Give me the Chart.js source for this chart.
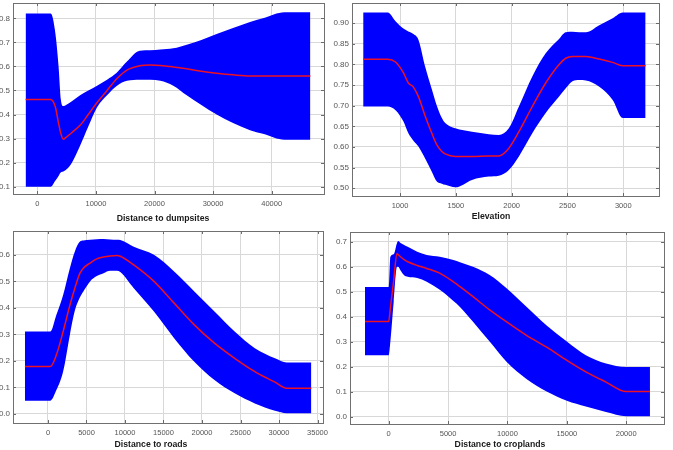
<!DOCTYPE html>
<html lang="en">
<head>
<meta charset="UTF-8" />
<title>Response curves</title>
<script src="https://cdn.jsdelivr.net/npm/chart.js"></script>
<style>
  body { margin: 0; background: #fff; }
  #wrap { position: relative; width: 673px; height: 450px; overflow: hidden; }
  #wrap canvas { position: absolute; left: 0; top: 0; }
  .ttl {
    position: absolute;
    font: bold 8.7px "Liberation Sans", Arial, sans-serif;
    color: #1a1a1a;
    line-height: 1;
    white-space: nowrap;
    transform: translate(-50%, -50%);
  }
</style>
</head>
<body>
<div id="wrap">
  <canvas id="c1" width="673" height="450"></canvas>
  <canvas id="c2" width="673" height="450"></canvas>
  <canvas id="c3" width="673" height="450"></canvas>
  <canvas id="c4" width="673" height="450"></canvas>
  <div class="ttl" style="left:163px;top:218px">Distance to dumpsites</div>
  <div class="ttl" style="left:491px;top:216px">Elevation</div>
  <div class="ttl" style="left:151px;top:444px">Distance to roads</div>
  <div class="ttl" style="left:500px;top:444px">Distance to croplands</div>
</div>

<script>
// --- Distance to dumpsites
const dumpX     = [-2000, 2300, 3070, 3630, 4030, 4430, 4900, 5900, 7300, 8700, 10200, 11900, 13600, 15300, 17500, 19300, 21000, 23200, 25500, 28000, 30600, 33400, 36300, 38500, 42200, 46600];
const dumpUpper = [0.82, 0.82, 0.74, 0.60, 0.46, 0.435, 0.44, 0.455, 0.48, 0.50, 0.52, 0.545, 0.575, 0.62, 0.665, 0.667, 0.67, 0.675, 0.69, 0.71, 0.735, 0.76, 0.785, 0.80, 0.825, 0.825];
const dumpMean  = [0.463, 0.463, 0.432, 0.363, 0.32, 0.297, 0.305, 0.325, 0.355, 0.40, 0.45, 0.50, 0.55, 0.585, 0.603, 0.606, 0.604, 0.598, 0.59, 0.58, 0.572, 0.565, 0.56, 0.56, 0.56, 0.56];
const dumpLower = [0.10, 0.10, 0.125, 0.145, 0.16, 0.163, 0.17, 0.20, 0.27, 0.35, 0.43, 0.48, 0.52, 0.54, 0.545, 0.545, 0.54, 0.52, 0.48, 0.44, 0.40, 0.365, 0.335, 0.32, 0.295, 0.295];
const dumpXTicks = [0, 10000, 20000, 30000, 40000];
const dumpYTicks = [0.1, 0.2, 0.3, 0.4, 0.5, 0.6, 0.7, 0.8];

// --- Elevation
const elevX     = [670, 890, 960, 1030, 1075, 1120, 1165, 1225, 1285, 1330, 1375, 1405, 1495, 1645, 1795, 1885, 1975, 2065, 2185, 2305, 2425, 2485, 2545, 2605, 2665, 2785, 2905, 2995, 3200];
const elevUpper = [0.926, 0.926, 0.905, 0.887, 0.88, 0.874, 0.86, 0.795, 0.74, 0.70, 0.67, 0.658, 0.645, 0.637, 0.631, 0.629, 0.645, 0.698, 0.771, 0.827, 0.862, 0.878, 0.879, 0.878, 0.878, 0.895, 0.912, 0.926, 0.926];
const elevMean  = [0.8127, 0.8127, 0.806, 0.78, 0.755, 0.745, 0.722, 0.675, 0.633, 0.605, 0.589, 0.583, 0.577, 0.577, 0.578, 0.578, 0.597, 0.637, 0.698, 0.755, 0.80, 0.815, 0.819, 0.819, 0.819, 0.813, 0.805, 0.797, 0.797];
const elevLower = [0.698, 0.698, 0.689, 0.662, 0.633, 0.615, 0.601, 0.572, 0.54, 0.516, 0.511, 0.508, 0.502, 0.52, 0.528, 0.53, 0.544, 0.577, 0.633, 0.682, 0.722, 0.742, 0.759, 0.762, 0.761, 0.746, 0.714, 0.67, 0.67];
const elevXTicks = [1000, 1500, 2000, 2500, 3000];
const elevYTicks = [0.50, 0.55, 0.60, 0.65, 0.70, 0.75, 0.80, 0.85, 0.90];

// --- Distance to roads
const roadX     = [-3000, 300, 1090, 1965, 2840, 3490, 4150, 4590, 5460, 6330, 7210, 8080, 8950, 9390, 11140, 13760, 16380, 19000, 21620, 24240, 26860, 29480, 31000, 34200];
const roadUpper = [0.311, 0.311, 0.374, 0.449, 0.55, 0.613, 0.65, 0.654, 0.657, 0.659, 0.66, 0.658, 0.657, 0.656, 0.631, 0.60, 0.537, 0.462, 0.386, 0.311, 0.248, 0.21, 0.194, 0.194];
const roadMean  = [0.179, 0.179, 0.223, 0.311, 0.41, 0.475, 0.531, 0.55, 0.569, 0.585, 0.592, 0.596, 0.598, 0.595, 0.562, 0.50, 0.418, 0.336, 0.267, 0.21, 0.16, 0.12, 0.097, 0.097];
const roadLower = [0.05, 0.05, 0.09, 0.16, 0.298, 0.39, 0.44, 0.462, 0.50, 0.52, 0.531, 0.54, 0.54, 0.535, 0.474, 0.386, 0.286, 0.197, 0.128, 0.078, 0.04, 0.012, 0.003, 0.003];
const roadXTicks = [0, 5000, 10000, 15000, 20000, 25000, 30000, 35000];
const roadYTicks = [0.0, 0.1, 0.2, 0.3, 0.4, 0.5, 0.6];

// --- Distance to croplands
const cropX     = [-2000, 0, 140, 420, 700, 800, 1000, 1300, 1600, 2400, 3200, 4300, 5450, 6000, 7100, 8500, 9900, 11600, 13300, 15000, 16600, 18300, 20000, 22000];
const cropUpper = [0.519, 0.519, 0.64, 0.65, 0.695, 0.703, 0.695, 0.687, 0.68, 0.66, 0.647, 0.64, 0.627, 0.618, 0.60, 0.567, 0.515, 0.44, 0.365, 0.30, 0.245, 0.212, 0.198, 0.198];
const cropMean  = [0.381, 0.381, 0.435, 0.544, 0.653, 0.648, 0.64, 0.628, 0.62, 0.605, 0.593, 0.574, 0.539, 0.52, 0.48, 0.427, 0.38, 0.325, 0.278, 0.225, 0.179, 0.138, 0.10, 0.10];
const cropLower = [0.245, 0.245, 0.30, 0.46, 0.60, 0.60, 0.585, 0.566, 0.56, 0.555, 0.54, 0.508, 0.463, 0.439, 0.38, 0.30, 0.22, 0.15, 0.10, 0.063, 0.04, 0.018, 0.001, 0.001];
const cropXTicks = [0, 5000, 10000, 15000, 20000];
const cropYTicks = [0.0, 0.1, 0.2, 0.3, 0.4, 0.5, 0.6, 0.7];

const W = 673, H = 450;
const FONT = '"Liberation Sans", Arial, sans-serif';

// box around the plot with small ticks pointing inwards, matlab style
const framePlugin = {
  id: 'frame',
  afterDraw(chart) {
    const { ctx, chartArea: a, scales } = chart;
    ctx.save();
    ctx.strokeStyle = '#6a6a6a';
    ctx.lineWidth = 1;
    ctx.beginPath();
    scales.x.ticks.forEach(t => {
      const px = Math.round(scales.x.getPixelForValue(t.value)) + 0.5;
      ctx.moveTo(px, a.bottom); ctx.lineTo(px, a.bottom - 3);
      ctx.moveTo(px, a.top); ctx.lineTo(px, a.top + 3);
    });
    scales.y.ticks.forEach(t => {
      const py = Math.round(scales.y.getPixelForValue(t.value)) + 0.5;
      ctx.moveTo(a.left, py); ctx.lineTo(a.left + 3, py);
      ctx.moveTo(a.right, py); ctx.lineTo(a.right - 3, py);
    });
    ctx.stroke();
    ctx.strokeStyle = '#707070';
    ctx.strokeRect(Math.round(a.left) + 0.5, Math.round(a.top) + 0.5,
                   Math.round(a.right - a.left), Math.round(a.bottom - a.top));
    ctx.restore();
  }
};

function pts(xs, ys) {
  return xs.map((x, i) => ({ x: x, y: ys[i] }));
}

function makePanel(p) {
  // y labels get clipped to the axis box, so the left panels keep the cut-off look
  const yAxisW = Math.min(p.box[0], 26), xAxisH = 20;
  return new Chart(document.getElementById(p.id), {
    type: 'line',
    data: {
      datasets: [
        { data: pts(p.x, p.mean), borderColor: '#ee1122', borderWidth: 1.5, pointRadius: 0, fill: false, cubicInterpolationMode: 'monotone' },
        { data: pts(p.x, p.upper), borderWidth: 0, borderColor: 'rgba(0,0,0,0)', pointRadius: 0, fill: '+1', backgroundColor: '#0000ff', cubicInterpolationMode: 'monotone' },
        { data: pts(p.x, p.lower), borderWidth: 0, borderColor: 'rgba(0,0,0,0)', pointRadius: 0, fill: false, cubicInterpolationMode: 'monotone' }
      ]
    },
    options: {
      responsive: false,
      animation: false,
      events: [],
      layout: {
        padding: { left: p.box[0] - yAxisW, top: p.box[1], right: W - p.box[2], bottom: H - p.box[3] - xAxisH }
      },
      plugins: { legend: { display: false }, tooltip: { enabled: false } },
      scales: {
        x: {
          type: 'linear',
          min: p.xr[0], max: p.xr[1],
          afterBuildTicks: s => { s.ticks = p.xt.map(v => ({ value: v })); },
          afterFit: s => { s.height = xAxisH; s.paddingLeft = 0; s.paddingRight = 0; },
          grid: { color: '#d8d8d8', lineWidth: 1, drawTicks: false },
          border: { display: false },
          ticks: { autoSkip: false, maxRotation: 0, padding: 5, color: '#555', font: { family: FONT, size: 7.5 }, callback: v => String(v) }
        },
        y: {
          min: p.yr[0], max: p.yr[1],
          afterBuildTicks: s => { s.ticks = p.yt.map(v => ({ value: v })); },
          afterFit: s => { s.width = yAxisW; s.paddingTop = 0; s.paddingBottom = 0; },
          grid: { color: '#d8d8d8', lineWidth: 1, drawTicks: false },
          border: { display: false },
          ticks: { padding: 3, color: '#555', font: { family: FONT, size: 8 }, callback: v => v.toFixed(p.dec) }
        }
      }
    },
    plugins: [framePlugin]
  });
}

makePanel({ id: 'c1', x: dumpX, upper: dumpUpper, mean: dumpMean, lower: dumpLower,
  xt: dumpXTicks, yt: dumpYTicks, dec: 1,
  box: [13, 3, 324, 194], xr: [-4147, 48925], yr: [0.0697, 0.8636] });

makePanel({ id: 'c2', x: elevX, upper: elevUpper, mean: elevMean, lower: elevLower,
  xt: elevXTicks, yt: elevYTicks, dec: 2,
  box: [352, 3, 659, 196], xr: [570, 3320], yr: [0.481, 0.949] });

makePanel({ id: 'c3', x: roadX, upper: roadUpper, mean: roadMean, lower: roadLower,
  xt: roadXTicks, yt: roadYTicks, dec: 1,
  box: [13, 231, 323, 423], xr: [-4545, 35714], yr: [-0.034, 0.69] });

makePanel({ id: 'c4', x: cropX, upper: cropUpper, mean: cropMean, lower: cropLower,
  xt: cropXTicks, yt: cropYTicks, dec: 1,
  box: [350, 232, 664, 424], xr: [-3259, 23183], yr: [-0.03, 0.739] });
</script>
</body>
</html>
